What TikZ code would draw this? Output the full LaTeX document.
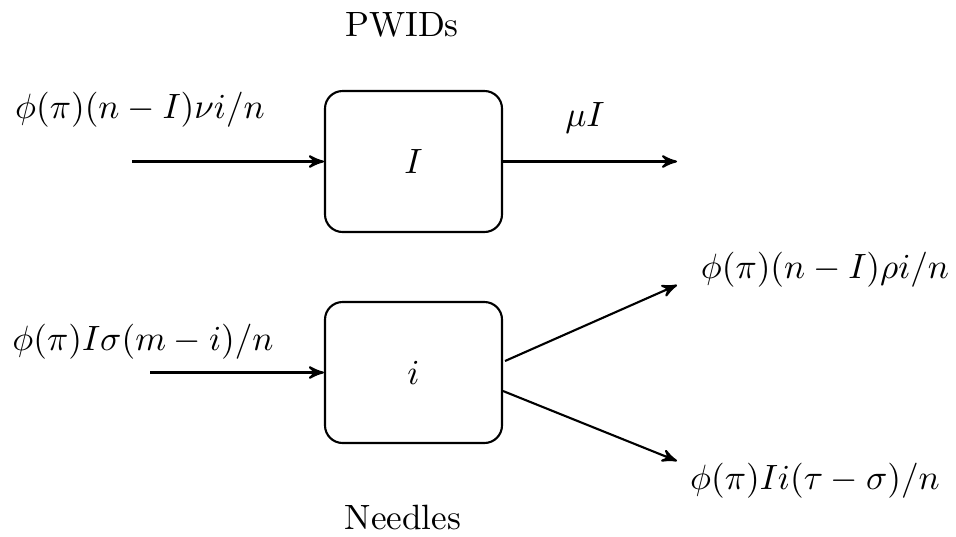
\documentclass[tikz,border=0pt]{standalone}
\usepackage{amsmath,amssymb,amsfonts}
\usepackage{xcolor}
\usepackage{tikz}
\usetikzlibrary{calc,shapes,positioning}
\usetikzlibrary{arrows}

\begin{document}
\begin{tikzpicture}
      \useasboundingbox (0,0) rectangle (9.56,5.36);
      \tikzstyle{cnode} = [semithick, rectangle, rounded corners = 5pt, minimum width = 1.77cm, minimum height = 1.41cm, draw, inner sep = 2pt]
      \tikzstyle{tnode} = [inner sep = 1pt, align=center]
      \tikzstyle{flow} = [semithick, -stealth']

      \node[cnode] (inf) at (4.135, 3.745) {$I$};
      \node[cnode] (ndl) at (4.135, 1.635) {$i$};

      \node[tnode] (pwid) at (4.02, 5.11) {PWIDs};
      \node[tnode] (need) at (4.03, 0.19) {Needles};

      \node[tnode] (lin) at (1.40, 4.26) {$\phi(\pi)(n-I)\nu i/n$};
      \node[tnode] (lout) at (5.85, 4.18) {$\mu I$};
      \node[tnode] (nin) at (1.43, 1.94) {$\phi(\pi)I\sigma(m-i)/n$};
      \node[tnode] (nup) at (8.25, 2.66) {$\phi(\pi)(n-I)\rho i/n$};
      \node[tnode] (ndn) at (8.15, 0.55) {$\phi(\pi)Ii(\tau-\sigma)/n$};

      % free ends
      \coordinate (a1) at (1.32, 3.745);
      \coordinate (a2) at (6.77, 3.745);
      \coordinate (b1) at (1.50, 1.635);
      \coordinate (c0) at (5.05, 1.75);
      \coordinate (c1) at (6.77, 2.51);
      \coordinate (d0) at (5.03, 1.45);
      \coordinate (d1) at (6.77, 0.75);

      % connections
      \draw[flow] (a1) to (inf);
      \draw[flow] (inf) to (a2);
      \draw[flow] (b1) to (ndl);
      \draw[flow] (c0) to (c1);
      \draw[flow] (d0) to (d1);
\end{tikzpicture}
\end{document}
